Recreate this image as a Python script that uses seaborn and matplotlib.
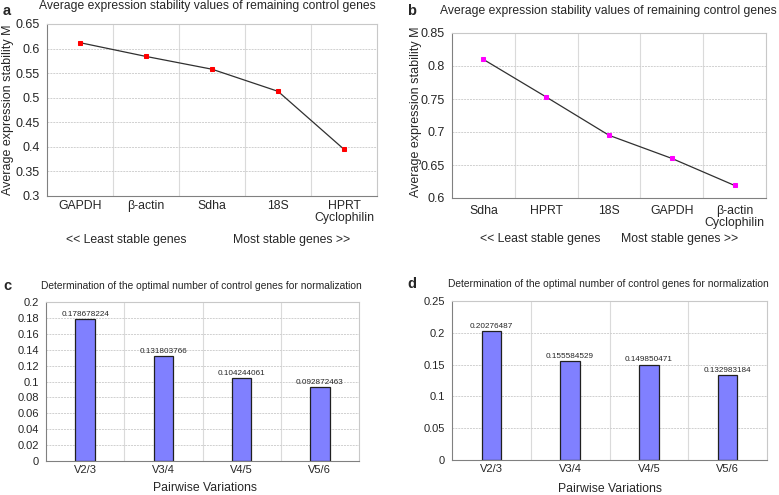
import matplotlib
matplotlib.use("Agg")
import matplotlib.pyplot as plt
import seaborn as sns
import pandas as pd
from matplotlib.ticker import FuncFormatter, MultipleLocator

# panel a / b: average expression stability M
genes_a = ["GAPDH", "β-actin", "Sdha", "18S", "HPRT\nCyclophilin"]
m_a = [0.612, 0.584, 0.558, 0.513, 0.395]
genes_b = ["Sdha", "HPRT", "18S", "GAPDH", "β-actin\nCyclophilin"]
m_b = [0.810, 0.753, 0.695, 0.660, 0.619]

# panel c / d: pairwise variations
pairs = ["V2/3", "V3/4", "V4/5", "V5/6"]
v_c = [0.178678224, 0.131803766, 0.104244061, 0.092872463]
v_d = [0.20276487, 0.155584529, 0.149850471, 0.132983184]

sns.set_style("white")
plt.rcParams["font.family"] = ["Liberation Sans", "DejaVu Sans"]

W, H = 779, 495
fig = plt.figure(figsize=(W / 100, H / 100), dpi=100)


def box(x0, y0, x1, y1):
    return [x0 / W, 1 - y1 / H, (x1 - x0) / W, (y1 - y0) / H]


def put(x, y, s, **kw):
    kw.setdefault("ha", "center")
    kw.setdefault("va", "center")
    fig.text(x / W, 1 - y / H, s, **kw)


fmt = FuncFormatter(lambda v, p: "%g" % round(v, 4))


def style_axes(ax, n, step, lo, hi, fs):
    ax.set_xlim(-0.5, n - 0.5)
    ax.set_ylim(lo, hi)
    ax.yaxis.set_major_locator(MultipleLocator(step))
    ax.yaxis.set_major_formatter(fmt)
    for b in range(n - 1):
        ax.axvline(b + 0.5, color="#dadada", lw=0.8, zorder=0)
    for t in ax.get_yticks():
        if lo < t < hi:
            ax.axhline(t, color="#d0d0d0", lw=0.7, ls=(0, (2, 1)), zorder=0)
    for s in ["top", "right"]:
        ax.spines[s].set_color("#c8c8c8")
    for s in ["left", "bottom"]:
        ax.spines[s].set_color("#808080")
    ax.tick_params(axis="both", labelsize=fs, length=3, color="#808080", pad=2)
    ax.tick_params(axis="x", length=0)
    ax.set_xlabel("")
    ax.set_ylabel("")


def line_panel(rect, genes, vals, color, lo, hi, xpad):
    ax = fig.add_axes(rect)
    df = pd.DataFrame({"gene": genes, "M": vals})
    sns.lineplot(data=df, x="gene", y="M", sort=False, color="#303030", lw=0.9,
                 marker="s", markersize=3.5, markerfacecolor=color,
                 markeredgecolor=color, ax=ax)
    style_axes(ax, len(genes), 0.05, lo, hi, 9)
    ax.tick_params(axis="x", pad=xpad, labelsize=8.8)
    for lab in ax.get_xticklabels():
        lab.set_linespacing(1.0)
    return ax


# panel a
ax_a = line_panel(box(47, 24, 377, 196), genes_a, m_a, "#ff0000", 0.3, 0.65, 3)
put(3, 11, "a", fontsize=10.5, fontweight="bold", ha="left")
put(207, 6, "Average expression stability values of remaining control genes", fontsize=8.7)
put(8, 110, "Average expression stability M", rotation=90, fontsize=9)
put(126, 240, "<< Least stable genes", fontsize=8.8)
put(292, 240, "Most stable genes >>", fontsize=8.8)

# panel b
ax_b = line_panel(box(452, 33, 766, 198), genes_b, m_b, "#ff00ff", 0.6, 0.85, 5)
put(407, 11, "b", fontsize=10.5, fontweight="bold", ha="left")
put(608, 11, "Average expression stability values of remaining control genes", fontsize=8.7)
put(416, 112, "Average expression stability M", rotation=90, fontsize=9)
put(540, 239, "<< Least stable genes", fontsize=8.8)
put(680, 239, "Most stable genes >>", fontsize=8.8)


def bar_panel(rect, vals, step, hi):
    ax = fig.add_axes(rect)
    df = pd.DataFrame({"pair": pairs, "V": vals})
    sns.barplot(data=df, x="pair", y="V", color="#8080ff", saturation=1,
                width=0.25, edgecolor="#202020", linewidth=0.9, ax=ax)
    style_axes(ax, len(pairs), step, 0, hi, 8)
    ax.tick_params(axis="x", pad=3)
    for i, v in enumerate(vals):
        ax.text(i, v + hi * 0.008, "%.9g" % v, ha="center", va="bottom", fontsize=5.9)
    return ax


# panel c
ax_c = bar_panel(box(46, 302, 359, 461), v_c, 0.02, 0.2)
put(3, 286, "c", fontsize=10.5, fontweight="bold", ha="left")
put(201, 286, "Determination of the optimal number of control genes for normalization",
    fontsize=7.35)
put(205, 488, "Pairwise Variations", fontsize=8.8)

# panel d
ax_d = bar_panel(box(452, 301, 767, 460), v_d, 0.05, 0.25)
put(407, 284, "d", fontsize=10.5, fontweight="bold", ha="left")
put(608, 284, "Determination of the optimal number of control genes for normalization",
    fontsize=7.35)
put(610, 489, "Pairwise Variations", fontsize=8.8)

fig.savefig("out.png", dpi=100)
